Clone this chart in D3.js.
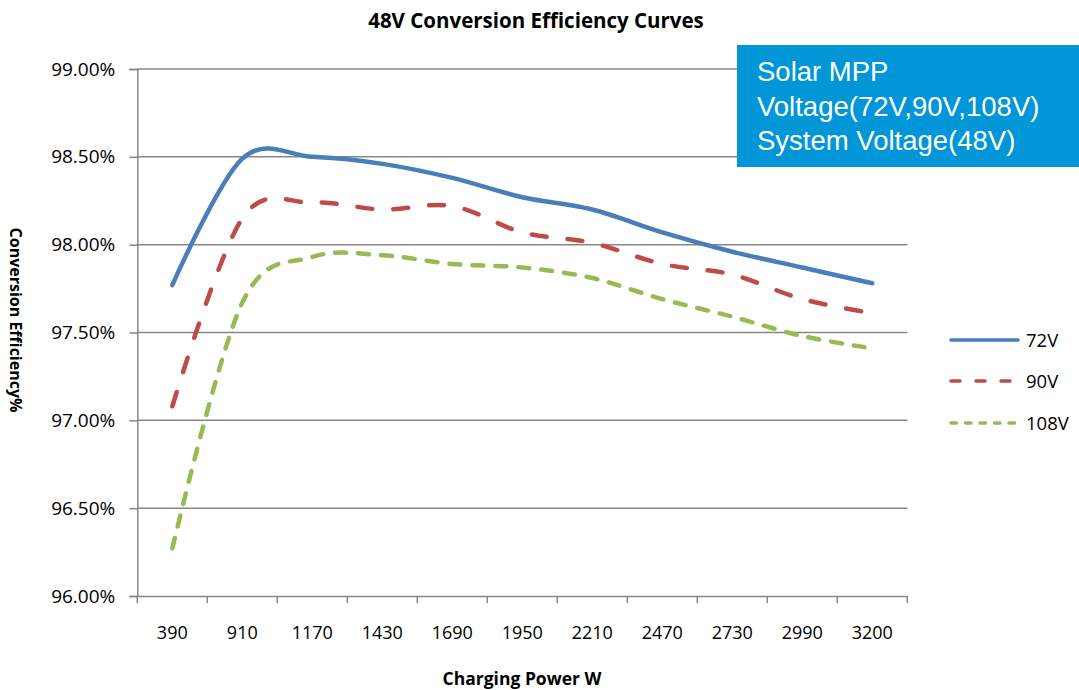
<!DOCTYPE html>
<html>
<head>
<meta charset="utf-8">
<script src="https://cdn.jsdelivr.net/npm/d3@7"></script>
<style>
  html, body { margin: 0; padding: 0; background: #fff; }
  svg { display: block; }
</style>
</head>
<body>
<svg id="chart" width="1079" height="690"></svg>
<script>
// ---- data ----
const categories = ["390","910","1170","1430","1690","1950","2210","2470","2730","2990","3200"];
const eff72  = [97.77, 98.49, 98.50, 98.46, 98.38, 98.27, 98.20, 98.07, 97.96, 97.87, 97.78];
const eff90  = [97.08, 98.15, 98.24, 98.20, 98.22, 98.07, 98.01, 97.89, 97.83, 97.69, 97.61];
const eff108 = [96.27, 97.67, 97.93, 97.94, 97.89, 97.87, 97.81, 97.69, 97.59, 97.48, 97.41];
const seriesNames = ["72V", "90V", "108V"];
const yTicks = [96.0, 96.5, 97.0, 97.5, 98.0, 98.5, 99.0];
const infoLines = ["Solar MPP", "Voltage(72V,90V,108V)", "System Voltage(48V)"];

(function () {
// ---- layout ----
const svg = d3.select("#chart");
const plotL = 137.3, plotR = 907.3, plotT = 69, plotB = 596;
const gridColor = "#878787";
const font = "'Open Sans', 'DejaVu Sans', sans-serif";

const x = d3.scaleBand().domain(categories).range([plotL, plotR]).paddingInner(0).paddingOuter(0);
const y = d3.scaleLinear().domain([96, 99]).range([plotB, plotT]);
const cx = c => x(c) + x.bandwidth() / 2;

const styles = [
  { color: "#4A7EBB", width: 4.5, dash: null, legendDash: null },
  { color: "#BE4B48", width: 4.5, dash: "15,21", legendDash: "9,16" },
  { color: "#98B954", width: 4.5, dash: "11,12", legendDash: "5.5,9" }
];
const series = [eff72, eff90, eff108].map((vals, i) => ({
  name: seriesNames[i], values: vals, style: styles[i]
}));

// gridlines
svg.append("g").selectAll("line").data(yTicks.filter(t => t > 96)).join("line")
  .attr("x1", plotL).attr("x2", plotR)
  .attr("y1", d => y(d)).attr("y2", d => y(d))
  .attr("stroke", gridColor).attr("stroke-width", 1.5);

// y axis
const yAxis = d3.axisLeft(y).tickValues(yTicks).tickSize(8).tickPadding(14)
  .tickFormat(d => d3.format(".2f")(d) + "%");
const gy = svg.append("g").attr("transform", `translate(${plotL},0)`).call(yAxis);
gy.select(".domain").attr("stroke", gridColor).attr("stroke-width", 1.5);
gy.selectAll(".tick line").attr("stroke", gridColor).attr("stroke-width", 1.5);
gy.selectAll(".tick text").attr("font-family", font).attr("font-size", 19).attr("fill", "#000");

// x axis
const xAxis = d3.axisBottom(x).tickSize(0).tickPadding(0);
const gx = svg.append("g").attr("transform", `translate(0,${plotB})`).call(xAxis);
gx.select(".domain").attr("stroke", gridColor).attr("stroke-width", 1.5);
gx.selectAll(".tick text").attr("font-family", font).attr("font-size", 18).attr("fill", "#000")
  .attr("y", 43).attr("dy", 0);
// boundary ticks
const bounds = categories.map(c => x(c)).concat([plotR]);
gx.append("g").selectAll("line").data(bounds).join("line")
  .attr("x1", d => d).attr("x2", d => d).attr("y1", 0).attr("y2", 7)
  .attr("stroke", gridColor).attr("stroke-width", 1.5);

// lines
const line = d3.line()
  .x((d, i) => cx(categories[i]))
  .y(d => y(d))
  .curve(d3.curveCardinal.tension(0));
svg.append("g").selectAll("path").data(series).join("path")
  .attr("d", d => line(d.values))
  .attr("fill", "none")
  .attr("stroke", d => d.style.color)
  .attr("stroke-width", d => d.style.width)
  .attr("stroke-linecap", "round")
  .attr("stroke-linejoin", "round")
  .attr("stroke-dasharray", d => d.style.dash);

// legend
const lg = svg.append("g");
const legendY = [340, 381, 423];
series.forEach((s, i) => {
  lg.append("line").attr("x1", 951).attr("x2", 1018)
    .attr("y1", legendY[i]).attr("y2", legendY[i])
    .attr("stroke", s.style.color).attr("stroke-width", 3.5)
    .attr("stroke-linecap", "round")
    .attr("stroke-dasharray", s.style.legendDash);
  lg.append("text").attr("x", 1026).attr("y", legendY[i]).attr("dy", "0.36em")
    .attr("font-family", font).attr("font-size", 18.5).attr("fill", "#000").text(s.name);
});

// info box
svg.append("rect").attr("x", 737).attr("y", 45).attr("width", 342).attr("height", 122)
  .attr("fill", "#0096D8");
svg.append("g").selectAll("text").data(infoLines).join("text")
  .attr("x", 757).attr("y", (d, i) => 81 + i * 34.5)
  .attr("font-family", "'Liberation Sans', Arial, sans-serif").attr("font-size", 27.5)
  .attr("fill", "#fff").text(d => d);

// titles
svg.append("text").attr("x", 536).attr("y", 28).attr("text-anchor", "middle")
  .attr("font-family", font).attr("font-weight", "bold").attr("font-size", 20.5)
  .attr("fill", "#000").text("48V Conversion Efficiency Curves");
svg.append("text").attr("x", 522).attr("y", 685).attr("text-anchor", "middle")
  .attr("font-family", font).attr("font-weight", "bold").attr("font-size", 17.5)
  .attr("fill", "#000").text("Charging Power W");
svg.append("text").attr("transform", "translate(10,320) rotate(90)")
  .attr("text-anchor", "middle")
  .attr("font-family", font).attr("font-weight", "bold").attr("font-size", 16)
  .attr("fill", "#000").text("Conversion Efficiency%");
})();
</script>
</body>
</html>
